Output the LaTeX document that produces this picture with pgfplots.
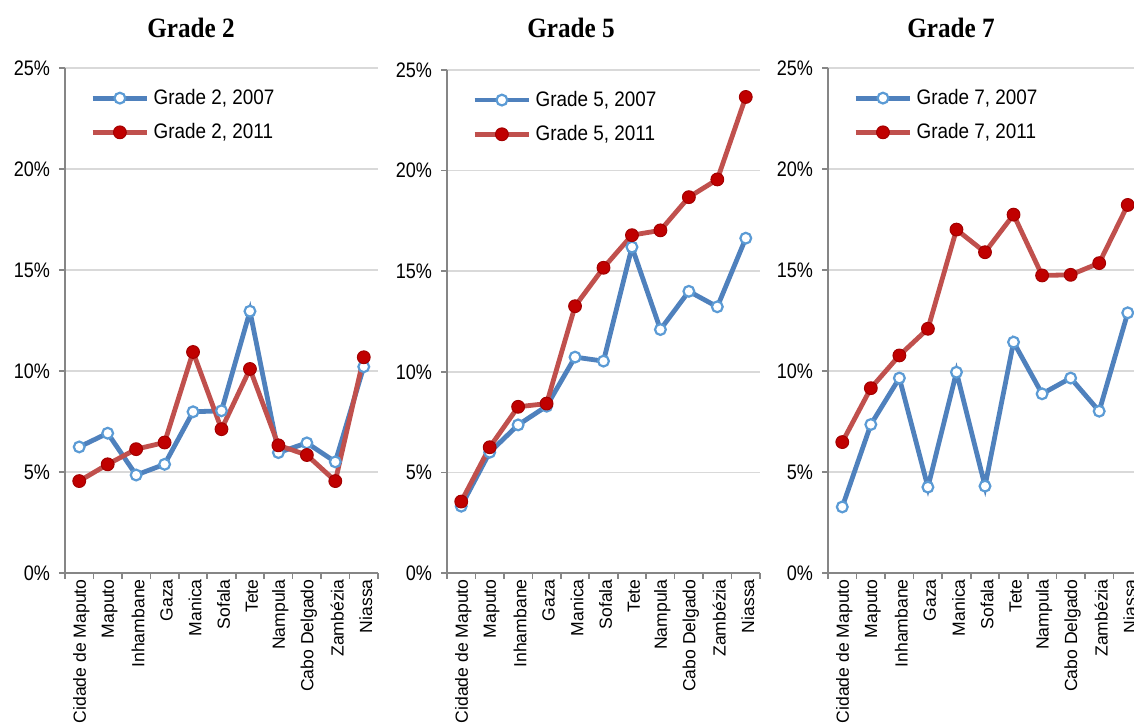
\documentclass[border=0pt]{standalone}
\usepackage{pgfplots}
\pgfplotsset{compat=1.18}
\usepackage{fontspec}
\setmainfont{Liberation Sans}
\newfontfamily\titlefont{Liberation Serif}

\definecolor{lblue}{HTML}{4F81BD}
\definecolor{mblue}{HTML}{5B9BD5}
\definecolor{lred}{HTML}{C0504D}
\definecolor{mred}{HTML}{C00000}
\definecolor{axgray}{HTML}{868686}
\definecolor{grgray}{HTML}{D9D9D9}

% one panel per grade, same axes for all three
\pgfplotsset{
  panel/.style={
    scale only axis, width=156.5pt, height=252.5pt,
    xmin=-0.5, xmax=10.5, ymin=0, ymax=25,
    axis x line*=bottom, axis y line*=left,
    axis line style={draw=axgray, line width=0.8pt, -},
    xtick={0,...,10},
    xticklabels={Cidade de Maputo,Maputo,Inhambane,Gaza,Manica,Sofala,Tete,Nampula,Cabo Delgado,Zambézia,Niassa},
    x tick label style={rotate=90, anchor=east, font=\fontsize{8.8}{11}\selectfont, inner sep=0pt, yshift=-1pt},
    major x tick style={draw=none},
    minor xtick={-0.5,0.5,...,10.5},
    minor tick length=3pt,
    ytick={0,5,...,25},
    yticklabel={\scalebox{0.86}[1]{\pgfmathprintnumber{\tick}\%}},
    y tick label style={font=\fontsize{10.5}{12}\selectfont, xshift=-1pt},
    /pgf/number format/assume math mode=true,
    ymajorgrids, major grid style={grgray, line width=0.8pt},
    tick style={axgray, line width=0.8pt}, tick align=outside, major tick length=3pt,
    legend cell align=left,
    legend style={draw=none, fill=none, at={(0.06,0.975)}, anchor=north west,
      font=\fontsize{10.5}{12}\selectfont, row sep=4pt},
    legend image code/.code={\draw[mark repeat=2,mark phase=2,##1] plot coordinates {(0cm,0cm) (0.48cm,0cm) (0.96cm,0cm)};},
  },
  s07/.style={lblue, line width=2.4pt, mark=*, mark size=2.7pt,
    mark options={fill=white, draw=mblue, line width=1.1pt}},
  s11/.style={lred, line width=2.4pt, mark=*, mark size=3.2pt,
    mark options={fill=mred, draw=mred!85!black, line width=0.5pt}},
}

\begin{document}
\begin{tikzpicture}
% Grade 2
\begin{axis}[panel, at={(32.5pt,76.5pt)}, anchor=south west]
\addplot[s07] coordinates {(0,6.24) (1,6.92) (2,4.85) (3,5.38) (4,7.98) (5,8.03) (6,12.96) (7,5.96) (8,6.44) (9,5.50) (10,10.21)};
\addplot[s11] coordinates {(0,4.55) (1,5.38) (2,6.13) (3,6.46) (4,10.94) (5,7.12) (6,10.10) (7,6.32) (8,5.84) (9,4.55) (10,10.68)};
\legend{\scalebox{0.9}[1]{Grade 2, 2007},\scalebox{0.9}[1]{Grade 2, 2011}}
\end{axis}
% Grade 5
\begin{axis}[panel, at={(223.5pt,76.5pt)}, anchor=south west, height=251.5pt]
\addplot[s07] coordinates {(0,3.32) (1,6.00) (2,7.36) (3,8.29) (4,10.73) (5,10.53) (6,16.20) (7,12.10) (8,14.00) (9,13.23) (10,16.64)};
\addplot[s11] coordinates {(0,3.55) (1,6.25) (2,8.26) (3,8.42) (4,13.26) (5,15.17) (6,16.79) (7,17.03) (8,18.68) (9,19.56) (10,23.66)};
\legend{\scalebox{0.9}[1]{Grade 5, 2007},\scalebox{0.9}[1]{Grade 5, 2011}}
\end{axis}
% Grade 7
\begin{axis}[panel, at={(414pt,76.5pt)}, anchor=south west, width=157pt]
\addplot[s07] coordinates {(0,3.27) (1,7.35) (2,9.65) (3,4.25) (4,9.94) (5,4.30) (6,11.43) (7,8.87) (8,9.65) (9,8.01) (10,12.88)};
\addplot[s11] coordinates {(0,6.48) (1,9.15) (2,10.77) (3,12.09) (4,17.00) (5,15.88) (6,17.74) (7,14.73) (8,14.76) (9,15.34) (10,18.22)};
\legend{\scalebox{0.9}[1]{Grade 7, 2007},\scalebox{0.9}[1]{Grade 7, 2011}}
\end{axis}
\node[font=\titlefont\bfseries\fontsize{14}{16}\selectfont] at (95.5pt,349pt) {\scalebox{0.9}[1]{Grade 2}};
\node[font=\titlefont\bfseries\fontsize{14}{16}\selectfont] at (285.5pt,349pt) {\scalebox{0.9}[1]{Grade 5}};
\node[font=\titlefont\bfseries\fontsize{14}{16}\selectfont] at (475.5pt,349pt) {\scalebox{0.9}[1]{Grade 7}};
\pgfresetboundingbox
\path[use as bounding box] (0,0) rectangle (567pt,363pt);
\end{tikzpicture}
\end{document}
